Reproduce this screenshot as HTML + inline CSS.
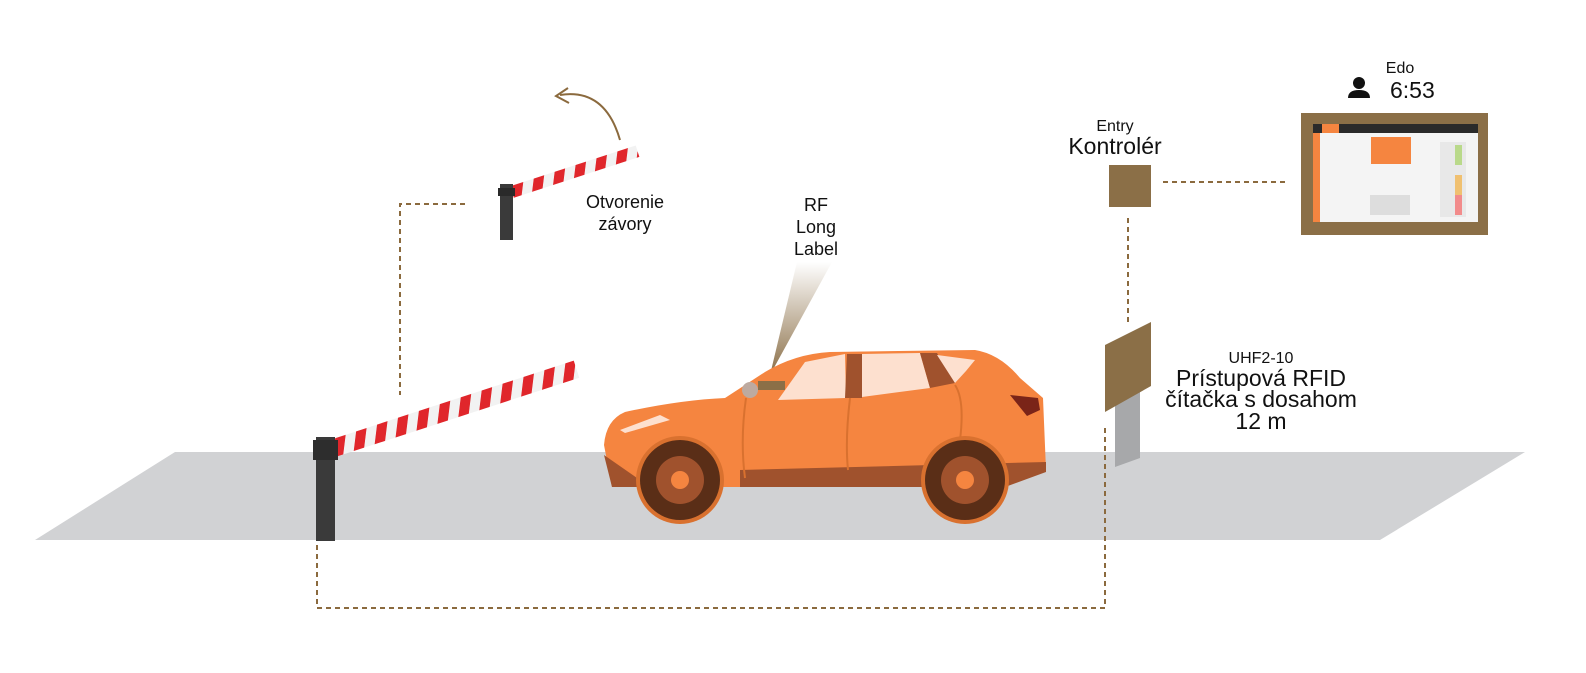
<!DOCTYPE html>
<html><head><meta charset="utf-8"><style>
html,body{margin:0;padding:0;background:#fff;}
svg{display:block;font-family:"Liberation Sans",sans-serif;}
</style></head><body>
<svg width="1586" height="673" viewBox="0 0 1586 673">
<defs>
<linearGradient id="cone" x1="0" y1="0" x2="0" y2="1">
<stop offset="0" stop-color="#fff"/><stop offset="1" stop-color="#8b6f47"/>
</linearGradient>
<pattern id="stripe" width="22" height="40" patternUnits="userSpaceOnUse" patternTransform="skewX(-25)">
<rect width="22" height="40" fill="#f2f2f2"/><rect width="11" height="40" fill="#e0262b"/>
</pattern>
</defs>
<polygon points="175,452 1525,452 1380,540 35,540" fill="#d1d2d4"/>
<g stroke="#8b6a3e" stroke-width="2" stroke-dasharray="5,4" fill="none">
<polyline points="465,204 400,204 400,395"/>
<polyline points="317,545 317,608 1105,608 1105,427"/>
<line x1="1128" y1="218" x2="1128" y2="322"/>
<line x1="1163" y1="182" x2="1288" y2="182"/>
</g>
<g transform="translate(512,192) rotate(-18)"><rect x="0" y="-6" width="132" height="12" fill="url(#stripe)"/></g>
<rect x="500" y="184" width="13" height="56" fill="#3a3a3a"/>
<rect x="498" y="188" width="17" height="8" fill="#2a2a2a"/>
<path d="M620,140 Q605,88 560,95" stroke="#8b6a3e" stroke-width="2" fill="none"/>
<path d="M568,88 L556,96 L569,103" stroke="#8b6a3e" stroke-width="2" fill="none"/>
<g transform="translate(334,448) rotate(-18)"><rect x="0" y="-9" width="255" height="18" fill="url(#stripe)"/></g>
<rect x="316" y="437" width="19" height="104" fill="#3a3a3a"/>
<rect x="313" y="440" width="25" height="20" fill="#2d2d2d"/>
<polygon points="770,375 797,262 832,262" fill="url(#cone)"/>
<path d="M612,487 L604,445 Q606,420 625,412 Q680,400 725,398 L765,372 Q795,354 830,352 L975,350 Q1000,354 1020,378 L1043,398 L1046,470 L1005,487 Z" fill="#f58540"/>
<path d="M740,470 L1046,462 L1046,472 L1005,487 L740,487 Z" fill="#a0522d"/>
<path d="M604,455 L612,487 L650,487 Z" fill="#a0522d"/>
<polygon points="778,400 805,362 845,354 846,398" fill="#fde0cf"/>
<polygon points="847,354 862,354 862,398 845,398" fill="#a0522d"/>
<polygon points="862,354 920,353 930,388 862,397" fill="#fde0cf"/>
<polygon points="920,353 937,353 955,383 930,388" fill="#a0522d"/>
<polygon points="937,355 975,360 966,371 955,383" fill="#fde0cf"/>
<polygon points="1010,395 1038,398 1040,410 1027,416" fill="#7a2418"/>
<polygon points="620,430 660,415 670,420 625,433" fill="#fde0cf"/>
<path d="M746,398 Q740,440 745,478 M850,398 Q845,440 848,470 M955,385 Q965,400 960,440" stroke="#d9712f" stroke-width="2" fill="none"/>
<circle cx="680" cy="480" r="44" fill="#d9712f"/>
<circle cx="965" cy="480" r="44" fill="#d9712f"/>
<circle cx="680" cy="480" r="40" fill="#5a2e17"/><circle cx="680" cy="480" r="24" fill="#a0522d"/><circle cx="680" cy="480" r="9" fill="#f58540"/>
<circle cx="965" cy="480" r="40" fill="#5a2e17"/><circle cx="965" cy="480" r="24" fill="#a0522d"/><circle cx="965" cy="480" r="9" fill="#f58540"/>
<rect x="758" y="381" width="27" height="9" fill="#8b6f47"/>
<circle cx="750" cy="390" r="8" fill="#bdaaa0"/>
<rect x="1109" y="165" width="42" height="42" fill="#8b6f47"/>
<polygon points="1115,395 1140,388 1140,458 1115,467" fill="#a7a8aa"/>
<polygon points="1105,345 1151,322 1151,386 1105,412" fill="#8b6f47"/>
<rect x="1301" y="113" width="187" height="122" fill="#8b6f47"/>
<rect x="1313" y="124" width="165" height="98" fill="#f4f4f4"/>
<rect x="1313" y="124" width="165" height="9" fill="#2a2a2a"/>
<rect x="1322" y="124" width="17" height="9" fill="#f58540"/>
<rect x="1313" y="133" width="7" height="89" fill="#f58540"/>
<rect x="1371" y="137" width="40" height="27" fill="#f58540"/>
<rect x="1440" y="142" width="26" height="75" fill="#e8e8e8"/>
<rect x="1455" y="145" width="7" height="20" fill="#b9d98a"/>
<rect x="1455" y="175" width="7" height="20" fill="#f0c070"/>
<rect x="1455" y="195" width="7" height="20" fill="#f28b8b"/>
<rect x="1370" y="195" width="40" height="20" fill="#ddd"/>
<g fill="#111" text-anchor="middle">
<text x="625" y="208" font-size="18">Otvorenie</text>
<text x="625" y="230" font-size="18">závory</text>
<text x="816" y="211" font-size="18">RF</text>
<text x="816" y="233" font-size="18">Long</text>
<text x="816" y="255" font-size="18">Label</text>
<text x="1115" y="131" font-size="16">Entry</text>
<text x="1115" y="154" font-size="23">Kontrolér</text>
<text x="1261" y="363" font-size="16">UHF2-10</text>
<text x="1261" y="386" font-size="23">Prístupová RFID</text>
<text x="1261" y="407" font-size="23">čítačka s dosahom</text>
<text x="1261" y="429" font-size="23">12 m</text>
<text x="1400" y="73" font-size="16">Edo</text>
<text x="1390" y="98" font-size="23" text-anchor="start">6:53</text>
</g>
<circle cx="1359" cy="83" r="6" fill="#111"/>
<path d="M1348,98 Q1348,90 1359,90 Q1370,90 1370,98 Z" fill="#111"/>
</svg>
</body></html>
